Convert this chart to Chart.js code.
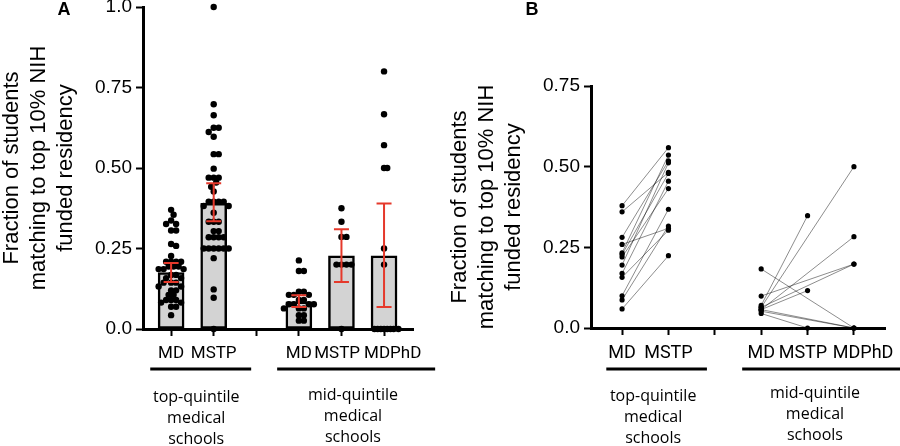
<!DOCTYPE html>
<html lang="en">
<head>
  <meta charset="UTF-8">
  <title>Residency match fractions</title>
  <script src="https://cdn.jsdelivr.net/npm/chart.js"></script>
  <style>
    body {
      margin: 0;
      background: #fff;
    }

    .panel {
      position: absolute;
      top: 0;
      width: 450px;
      height: 446px;
    }

    #panelA { left: 0; }
    #panelB { left: 450px; }
  </style>
</head>
<body>

  <div class="panel" id="panelA"><canvas id="chartA" width="450" height="446"></canvas></div>
  <div class="panel" id="panelB"><canvas id="chartB" width="450" height="446"></canvas></div>

  <script>
    // x slots: 0,1 top-quintile, 2 empty gap, 3,4,5 mid-quintile
    const slotLabels = ["MD", "MSTP", "", "MD", "MSTP", "MDPhD"];
    const yTitle = ["Fraction of students", "matching to top 10% NIH", "funded residency"];
    const groupText = [
      ["top-quintile", "medical", "schools"],
      ["mid-quintile", "medical", "schools"]
    ];

    const yTicksA = [0, 0.25, 0.5, 0.75, 1.0];
    const yTickTextA = ["0.0", "0.25", "0.50", "0.75", "1.0"];
    const yTicksB = [0, 0.25, 0.5, 0.75];
    const yTickTextB = ["0.0", "0.25", "0.50", "0.75"];

    // Panel A: one value per school
    const mdTop = [0.370, 0.355, 0.337, 0.326, 0.326, 0.306, 0.306, 0.264, 0.258, 0.227,
      0.209, 0.209, 0.209, 0.209, 0.194, 0.194, 0.194, 0.186, 0.186, 0.186,
      0.168, 0.168, 0.158, 0.158, 0.144, 0.144, 0.144, 0.132, 0.132, 0.120,
      0.120, 0.106, 0.106, 0.090, 0.090, 0.090, 0.082, 0.082, 0.069, 0.069, 0.043];
    const mstpTop = [1.0, 0.698, 0.664, 0.625, 0.625, 0.612, 0.597, 0.543, 0.543, 0.498,
      0.470, 0.470, 0.470, 0.455, 0.442, 0.427, 0.395, 0.395, 0.395, 0.395,
      0.382, 0.382, 0.361, 0.333, 0.333, 0.333, 0.304, 0.304, 0.285, 0.285,
      0.285, 0.285, 0.250, 0.250, 0.250, 0.250, 0.250, 0.250, 0.220, 0.123, 0.097, 0.0];
    const mdMid = [0.213, 0.180, 0.180, 0.116, 0.116, 0.106, 0.106, 0.106, 0.090, 0.090,
      0.077, 0.077, 0.077, 0.077, 0.064, 0.064, 0.064, 0.043, 0.043, 0.026, 0.026];
    const mstpMid = [0.375, 0.333, 0.286, 0.286, 0.2, 0.2, 0.2, 0.2, 0.0];
    const mdphdMid = [0.8, 0.667, 0.571, 0.5, 0.5, 0.25, 0.2, 0, 0, 0, 0, 0, 0, 0, 0];

    const barMeans = [0.175, 0.39, null, 0.084, 0.227, 0.227];
    const ciLow = [0.146, 0.335, null, 0.068, 0.146, 0.068];
    const ciHigh = [0.205, 0.453, null, 0.105, 0.31, 0.39];

    // Panel B: paired schools (MD value -> MSTP / MDPhD value)
    const topPairMd = [0.379, 0.360, 0.281, 0.259, 0.233, 0.228, 0.220, 0.195, 0.169, 0.157, 0.100, 0.087, 0.059];
    const topPairMstp = [0.559, 0.482, 0.518, 0.309, 0.536, 0.479, 0.432, 0.512, 0.455, 0.303, 0.368, 0.316, 0.224];
    const midPairMd = [0.183, 0.070, 0.064, 0.057, 0.099, 0.064, 0.057, 0.045, 0.057, 0.052];
    const midPairOther = [0.0, 0.348, 0.5, 0.283, 0.198, 0.198, 0.116, 0.0, 0.0, 0.0];
    const midPairSlot = [5, 4, 5, 5, 5, 5, 4, 4, 5, 5];

    const AXIS_FONT = "'Liberation Sans', Arial, sans-serif";
    const LABEL_FONT = "'Open Sans', sans-serif";

    // spread dots sideways so they don't sit on top of each other (beeswarm)
    function swarm(values, slot, pxPerX, pxPerY, dotPx) {
      const placed = [];
      const step = dotPx / 2;
      return values.map(v => {
        for (let k = 0; k < 40; k++) {
          const offs = k === 0 ? [0] : [k * step, -k * step];
          for (const o of offs) {
            const ok = placed.every(p => Math.hypot(p.o - o, (p.v - v) * pxPerY) >= dotPx);
            if (ok) {
              placed.push({ o, v });
              return { x: slot + o / pxPerX, y: v };
            }
          }
        }
        return { x: slot, y: v };
      });
    }

    function yScale(ticks, texts, max, width) {
      return {
        type: "linear",
        min: 0,
        max: max,
        afterBuildTicks: s => { s.ticks = ticks.map(v => ({ value: v })); },
        afterFit: s => { s.width = width; s.paddingTop = 0; s.paddingBottom = 0; },
        ticks: {
          callback: v => texts[ticks.indexOf(v)],
          font: { family: AXIS_FONT, size: 19 },
          color: "#000",
          padding: 4
        },
        grid: { drawOnChartArea: false, tickLength: 7, tickWidth: 2, tickColor: "#000" },
        border: { display: true, color: "#000", width: 3 }
      };
    }

    // small sideways nudges of the tick text, as in the original
    const labelPad = ["", "", "", "", "MSTP\u2002", "\u2002\u2002MDPhD"];

    function xScale(min, max, height, fontSize) {
      return {
        type: "linear",
        min: min,
        max: max,
        offset: false,
        afterBuildTicks: s => { s.ticks = slotLabels.map((_, i) => ({ value: i })); },
        afterFit: s => { s.height = height; s.paddingLeft = 0; s.paddingRight = 0; },
        ticks: {
          callback: v => labelPad[v] || slotLabels[v],
          font: { family: "Roboto, sans-serif", size: fontSize },
          color: "#000",
          padding: 8,
          maxRotation: 0,
          autoSkip: false
        },
        grid: { drawOnChartArea: false, offset: false, tickLength: 7, tickWidth: 2, tickColor: "#000" },
        border: { display: true, color: "#000", width: 3 }
      };
    }

    // titles, group brackets and panel letters
    function decorPlugin(opts) {
      return {
        id: "decor" + opts.letter,
        afterDraw(chart) {
          const { ctx, chartArea, scales } = chart;
          const x = scales.x;
          ctx.save();
          ctx.fillStyle = "#000";

          // panel letter
          ctx.font = "bold 18px " + AXIS_FONT;
          ctx.textAlign = "center";
          ctx.textBaseline = "middle";
          ctx.fillText(opts.letter, opts.letterX, 10);

          // rotated y title
          const cy = (chartArea.top + chartArea.bottom) / 2;
          ctx.font = "22px " + AXIS_FONT;
          yTitle.forEach((line, i) => {
            ctx.save();
            ctx.translate(chartArea.left - 131 + i * 27, cy);
            ctx.rotate(-Math.PI / 2);
            ctx.fillText(line, 0, 0);
            ctx.restore();
          });

          // group underlines and group names
          ctx.strokeStyle = "#000";
          ctx.lineWidth = 3;
          opts.groups.forEach((g, gi) => {
            ctx.beginPath();
            ctx.moveTo(x.getPixelForValue(g.from), 369);
            ctx.lineTo(x.getPixelForValue(g.to), 369);
            ctx.stroke();
            ctx.font = "16px " + LABEL_FONT;
            groupText[gi].forEach((t, li) => {
              ctx.fillText(t, x.getPixelForValue(g.mid), g.textY + li * 21);
            });
          });
          ctx.restore();
        }
      };
    }

    const errorBars = {
      id: "errorBars",
      afterDatasetsDraw(chart) {
        const { ctx, scales: { x, y } } = chart;
        ctx.save();
        ctx.strokeStyle = "#e5392b";
        ctx.lineWidth = 2;
        barMeans.forEach((m, i) => {
          if (m == null) return;
          const px = x.getPixelForValue(i);
          const lo = y.getPixelForValue(ciLow[i]);
          const hi = y.getPixelForValue(ciHigh[i]);
          ctx.beginPath();
          ctx.moveTo(px, lo); ctx.lineTo(px, hi);
          ctx.moveTo(px - 7.5, lo); ctx.lineTo(px + 7.5, lo);
          ctx.moveTo(px - 7.5, hi); ctx.lineTo(px + 7.5, hi);
          ctx.stroke();
        });
        ctx.restore();
      }
    };

    // Panel A
    const pxPerXA = 42.6, pxPerYA = 322;
    const dotsA = [mdTop, mstpTop, null, mdMid, mstpMid, mdphdMid];
    const dotGap = [5, 5, 0, 5, 5, 3.2];
    const scatterSets = [];
    dotsA.forEach((vals, slot) => {
      if (!vals) return;
      scatterSets.push({
        type: "scatter",
        data: swarm(vals, slot, pxPerXA, pxPerYA, dotGap[slot]),
        pointRadius: 3.2,
        pointBackgroundColor: "#000",
        pointBorderWidth: 0,
        clip: false,
        order: 0
      });
    });

    new Chart(document.getElementById("chartA"), {
      type: "scatter",
      data: {
        datasets: [
          ...scatterSets,
          {
            type: "bar",
            data: barMeans.map((v, i) => ({ x: i, y: v })).filter(d => d.y != null),
            backgroundColor: "#d3d3d3",
            borderColor: "#000",
            borderWidth: 2.5,
            borderSkipped: false,
            barThickness: 26,
            order: 1
          }
        ]
      },
      options: {
        responsive: false,
        animation: false,
        layout: { padding: { top: 7, right: 37, bottom: 0, left: 0 } },
        plugins: { legend: { display: false }, tooltip: { enabled: false } },
        scales: {
          x: xScale(-0.66, 5.68, 117, 17),
          y: yScale(yTicksA, yTickTextA, 1.0, 143)
        }
      },
      plugins: [errorBars, decorPlugin({
        letter: "A",
        letterX: 64,
        groups: [
          { from: -0.49, to: 1.88, mid: 0.59, textY: 397 },
          { from: 2.49, to: 6.2, mid: 4.27, textY: 395 }
        ]
      })]
    });

    // Panel B
    const lineSets = [];
    topPairMd.forEach((v, i) => {
      lineSets.push({ data: [{ x: 0, y: v }, { x: 1, y: topPairMstp[i] }] });
    });
    midPairMd.forEach((v, i) => {
      lineSets.push({ data: [{ x: 3, y: v }, { x: midPairSlot[i], y: midPairOther[i] }] });
    });
    lineSets.forEach(ds => {
      Object.assign(ds, {
        type: "line",
        borderColor: "rgba(0,0,0,0.45)",
        borderWidth: 1,
        pointRadius: 2.6,
        pointBackgroundColor: "#000",
        pointBorderWidth: 0,
        clip: false
      });
    });

    new Chart(document.getElementById("chartB"), {
      type: "line",
      data: { datasets: lineSets },
      options: {
        responsive: false,
        animation: false,
        layout: { padding: { top: 86, right: 15, bottom: 0, left: 0 } },
        plugins: { legend: { display: false }, tooltip: { enabled: false } },
        scales: {
          x: xScale(-0.67, 5.67, 118, 18),
          y: yScale(yTicksB, yTickTextB, 0.75, 141)
        }
      },
      plugins: [decorPlugin({
        letter: "B",
        letterX: 82,
        groups: [
          { from: -0.34, to: 1.83, mid: 0.67, textY: 396 },
          { from: 2.59, to: 6.1, mid: 4.16, textY: 393 }
        ]
      })]
    });
  </script>
</body>
</html>
